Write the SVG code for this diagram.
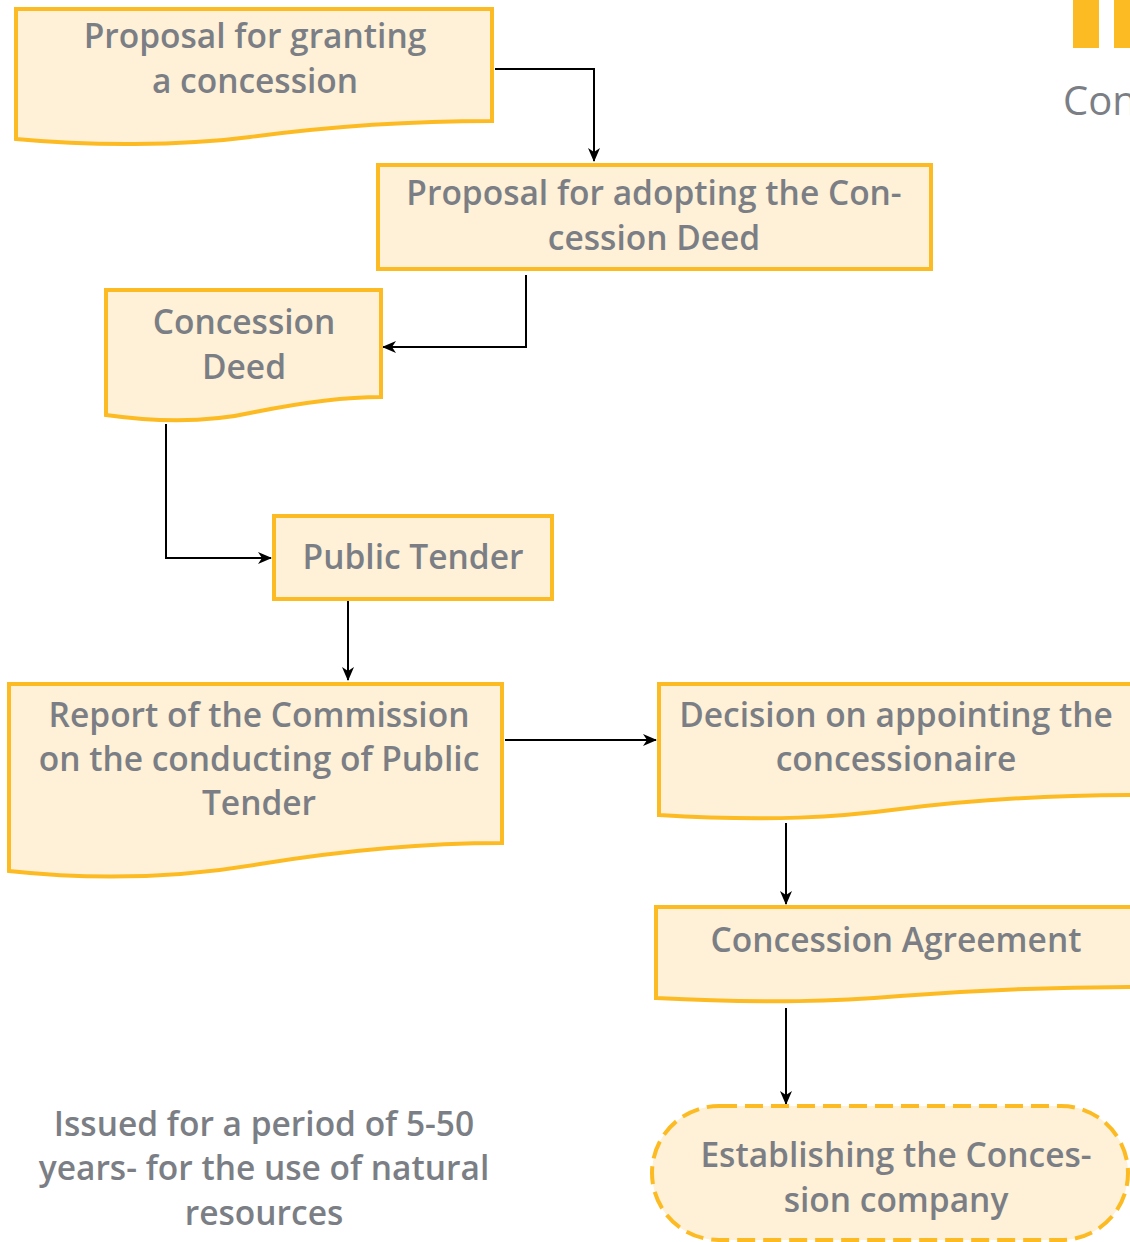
<svg xmlns="http://www.w3.org/2000/svg" width="1130" height="1242" viewBox="0 0 1130 1242">
<defs>
<marker id="ah" markerWidth="14" markerHeight="12" refX="13" refY="6" orient="auto" markerUnits="userSpaceOnUse">
<path d="M0,0 L14,6 L0,12 L4,6 Z" fill="#000"/>
</marker>
<style>
.shape{fill:#FEF1D7;stroke:#FDBB23;stroke-width:4;stroke-linejoin:miter}
.dash{fill:#FEF1D7;stroke:#FDBB23;stroke-width:4;stroke-dasharray:18,8}
.t{font-family:"Open Sans","Noto Sans","Liberation Sans",sans-serif;font-weight:600;font-size:33.5px;fill:#7B7F85;text-anchor:middle}
.c{fill:none;stroke:#000;stroke-width:2;marker-end:url(#ah)}
</style>
</defs>
<rect width="1130" height="1242" fill="#fff"/>
<g id="header">
<rect x="1073" y="0" width="26" height="48" fill="#FDBB23"/>
<rect x="1114" y="0" width="20" height="48" fill="#FDBB23"/>
<text x="1063" y="115" font-family="Open Sans,Liberation Sans,sans-serif" font-size="40" fill="#7B7F85">Con</text>
</g>
<g id="connectors">
<path class="c" d="M495,69 H594 V161"/>
<path class="c" d="M526,275 V347 H383"/>
<path class="c" d="M166,424 V558 H271"/>
<path class="c" d="M348,601 V680"/>
<path class="c" d="M505,740 H656"/>
<path class="c" d="M786,823 V904"/>
<path class="c" d="M786,1008 V1104"/>
</g>
<g id="n1">
<path class="shape" d="M16,9 H492 V121 C420,121 340,125 250,137 C180,146 90,146 16,139 Z"/>
<text class="t" x="255" y="48">Proposal for granting</text>
<text class="t" x="255" y="93">a concession</text>
</g>
<g id="n2">
<rect class="shape" x="378" y="165" width="553" height="104"/>
<text class="t" x="654" y="205">Proposal for adopting the Con-</text>
<text class="t" x="654" y="250">cession Deed</text>
</g>
<g id="n3">
<path class="shape" d="M106,290 H381 V397 C340,397 300,403 255,412 C220,420 170,424 106,415 Z"/>
<text class="t" x="244" y="334">Concession</text>
<text class="t" x="244" y="379">Deed</text>
</g>
<g id="n4">
<rect class="shape" x="274" y="516" width="278" height="83"/>
<text class="t" x="413" y="569">Public Tender</text>
</g>
<g id="n5">
<path class="shape" d="M9,684 H502 V843 C420,843 340,851 260,864 C190,876 110,882 9,871 Z"/>
<text class="t" x="259" y="727">Report of the Commission</text>
<text class="t" x="259" y="771">on the conducting of Public</text>
<text class="t" x="259" y="815">Tender</text>
</g>
<g id="n6">
<path class="shape" d="M659,684 H1134 V795 C1060,795 980,799 900,809 C840,817 770,822 659,815 Z"/>
<text class="t" x="896" y="727">Decision on appointing the</text>
<text class="t" x="896" y="771">concessionaire</text>
</g>
<g id="n7">
<path class="shape" d="M656,907 H1134 V987 C1060,987 980,990 900,996 C840,1001 770,1004 656,998 Z"/>
<text class="t" x="896" y="952">Concession Agreement</text>
</g>
<g id="n8">
<rect class="dash" x="652" y="1106" width="476" height="134" rx="67" ry="67"/>
<text class="t" x="896" y="1167">Establishing the Conces-</text>
<text class="t" x="896" y="1212">sion company</text>
</g>
<g id="note">
<text class="t" x="264" y="1136">Issued for a period of 5-50</text>
<text class="t" x="264" y="1180">years- for the use of natural</text>
<text class="t" x="264" y="1225">resources</text>
</g>
</svg>
